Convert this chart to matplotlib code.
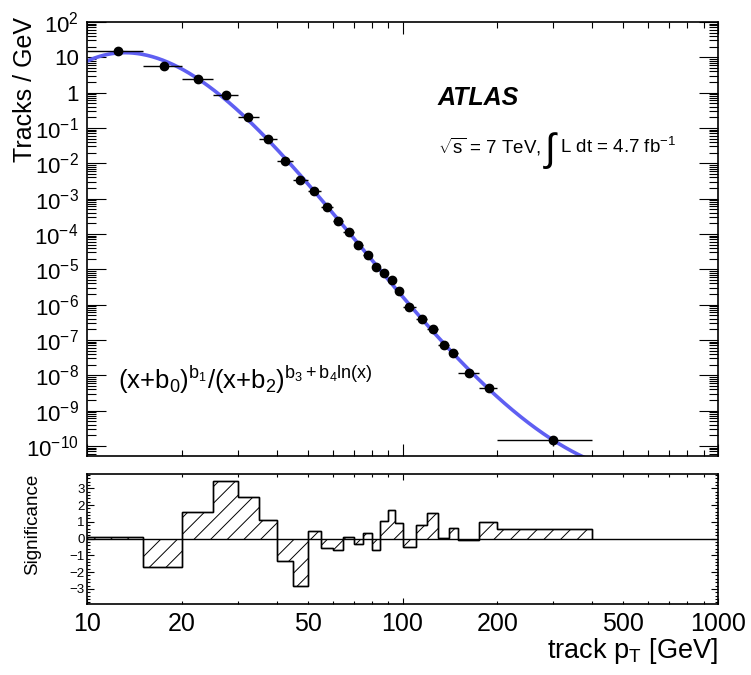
import numpy as np
import matplotlib
matplotlib.use('Agg')
import matplotlib.pyplot as plt
from matplotlib.ticker import LogLocator, FixedLocator, NullFormatter, FuncFormatter, AutoMinorLocator

plt.rcParams['font.family'] = ['Liberation Sans', 'DejaVu Sans']
plt.rcParams['mathtext.fontset'] = 'custom'
plt.rcParams['mathtext.rm'] = 'Liberation Sans'
plt.rcParams['mathtext.it'] = 'Liberation Sans:italic'
plt.rcParams['mathtext.bf'] = 'Liberation Sans:bold'
plt.rcParams['mathtext.default'] = 'regular'
plt.rcParams['hatch.linewidth'] = 0.7

# binning in track pT [GeV]
bin_edges = [10, 15, 20, 25, 30, 35, 40, 45, 50, 55, 60, 65, 70, 75, 80, 85,
             90, 95, 100, 110, 120, 130, 140, 150, 175, 200, 400]
pt_points = [12.5, 17.5, 22.5, 27.5, 32.5, 37.5, 42.5, 47.5, 52.5, 57.5, 62.5,
             67.5, 72.5, 77.5, 82.5, 87.5, 92.5, 97.5, 105, 115, 125, 135, 145,
             162.5, 187.5, 300]
tracks_per_gev = [14.8, 5.8, 2.42, 0.875, 0.208, 0.0494, 0.0115, 3.47e-3, 1.69e-3,
                  5.83e-4, 2.39e-4, 1.14e-4, 4.98e-5, 2.59e-5, 1.13e-5, 7.85e-6,
                  5.07e-6, 2.42e-6, 8.69e-7, 4.05e-7, 2.11e-7, 7.13e-8, 4.23e-8,
                  1.17e-8, 4.48e-9, 1.47e-10]
rel_err = [0.005, 0.008, 0.01, 0.015, 0.02, 0.03, 0.04, 0.05, 0.06, 0.07, 0.08,
           0.09, 0.1, 0.1, 0.11, 0.12, 0.12, 0.13, 0.12, 0.13, 0.14, 0.16, 0.17,
           0.16, 0.2, 0.3]
significance = [0.1, -1.7, 1.58, 3.46, 2.46, 1.08, -1.36, -2.84, 0.48, -0.58, -0.7,
                0.08, -0.3, 0.34, -0.66, 1.02, 1.7, 0.94, -0.5, 0.82, 1.54, 0.04,
                0.62, -0.1, 1.0, 0.58]

edges = np.array(bin_edges, dtype=float)
x = np.array(pt_points)
y = np.array(tracks_per_gev)
xlo = x - edges[:-1]
xhi = edges[1:] - x
yerr = y * np.array(rel_err)

# smooth fit of the spectrum in log-log space
fit_coef = np.polyfit(np.log(x), np.log(y), 4)

fig = plt.figure(figsize=(7.51, 6.75), dpi=100)
ax = fig.add_axes([87 / 751, 1 - 456 / 675, 631 / 751, 434 / 675])
axr = fig.add_axes([87 / 751, 1 - 604 / 675, 631 / 751, 130 / 675])

xc = np.geomspace(10, 1000, 600)
yc = np.exp(np.polyval(fit_coef, np.log(xc)))
ax.plot(xc, yc, color='#5f5ff2', lw=2.6, zorder=2)
ax.errorbar(x, y, xerr=[xlo, xhi], yerr=yerr, fmt='o', color='black', ms=6,
            elinewidth=1.0, capsize=0, zorder=3)

ax.set_xscale('log')
ax.set_yscale('log')
ax.set_xlim(10, 1000)
ax.set_ylim(5.2e-11, 100)
ax.yaxis.set_major_locator(LogLocator(base=10, numticks=20))
ax.yaxis.set_minor_locator(LogLocator(base=10, subs=np.arange(2, 10), numticks=20))


def log_label(v, pos):
    e = int(round(np.log10(v)))
    if e == 0:
        return '1'
    if e == 1:
        return '10'
    return r'$10^{%d}$' % e


ax.yaxis.set_major_formatter(FuncFormatter(log_label))
ax.yaxis.set_minor_formatter(NullFormatter())
ax.xaxis.set_major_formatter(NullFormatter())
ax.xaxis.set_minor_formatter(NullFormatter())
ax.tick_params(which='both', direction='in', top=True, right=True)
ax.tick_params(axis='y', which='major', length=13.5, width=0.8, labelsize=16, pad=6)
ax.tick_params(axis='y', which='minor', length=6.5, width=0.8)
ax.tick_params(axis='x', which='major', length=8.5, width=0.8)
ax.tick_params(axis='x', which='minor', length=4.3, width=0.8)

ax.text(0.556, 0.809, 'ATLAS', transform=ax.transAxes, fontsize=18,
        fontweight='bold', fontstyle='italic', va='baseline')
t1 = ax.text(0.556, 0.698, r'$\sqrt{s}$ = 7 TeV,', transform=ax.transAxes,
             fontsize=13.5, va='baseline')
t_int = ax.annotate('\u222b', xy=(1, 0.698), xycoords=(t1, ax.transAxes),
                    xytext=(3, -6), textcoords='offset points', fontsize=28,
                    va='baseline', ha='left')
ax.annotate(r'L dt = 4.7 fb$^{-1}$', xy=(1, 0.698), xycoords=(t_int, ax.transAxes),
            xytext=(3, 0), textcoords='offset points', fontsize=13.5,
            va='baseline', ha='left')
ax.text(0.049, 0.154, r'(x+b$_0$)$^{b_1}$/(x+b$_2$)$^{b_3+b_4ln(x)}$',
        transform=ax.transAxes, fontsize=18.5, va='baseline')

# significance panel
axr.stairs(significance, edges, baseline=0, fill=True, facecolor='none',
           edgecolor='black', hatch='//', lw=1.0)
axr.stairs(significance, edges, baseline=0, fill=False, color='black', lw=1.0)
axr.axhline(0, color='black', lw=1.0)
axr.set_xscale('log')
axr.set_xlim(10, 1000)
axr.set_ylim(-3.9, 3.85)
axr.yaxis.set_major_locator(FixedLocator([-3, -2, -1, 0, 1, 2, 3]))
axr.yaxis.set_minor_locator(AutoMinorLocator(5))
axr.xaxis.set_major_locator(FixedLocator([10, 100, 1000]))
axr.xaxis.set_minor_locator(LogLocator(base=10, subs=np.arange(2, 10), numticks=10))
axr.xaxis.set_major_formatter(FuncFormatter(lambda v, p: '%d' % round(v)))
axr.xaxis.set_minor_formatter(FuncFormatter(
    lambda v, p: '%d' % round(v) if round(v) in (20, 50, 200, 500) else ''))
axr.tick_params(which='both', direction='in', top=True, right=True)
axr.tick_params(axis='x', which='both', labelsize=18, pad=6)
axr.tick_params(axis='x', which='major', length=4.3, width=0.8)
axr.tick_params(axis='x', which='minor', length=2.2, width=0.8)
axr.tick_params(axis='y', which='major', length=5, width=0.8, labelsize=9.5, pad=1.5)
axr.tick_params(axis='y', which='minor', length=2.5, width=0.8)

for a in (ax, axr):
    for s in a.spines.values():
        s.set_linewidth(1.2)

fig.text(25 / 751, 1 - 17 / 675, 'Tracks / GeV', rotation=90, ha='center', va='top',
         fontsize=18)
fig.text(33 / 751, 1 - 474 / 675, 'Significance', rotation=90, ha='center', va='top',
         fontsize=13.5)
fig.text(718 / 751, 1 - 658 / 675, r'track p$_T$ [GeV]', ha='right', va='baseline',
         fontsize=19.5)

fig.savefig('out.png', dpi=100)
